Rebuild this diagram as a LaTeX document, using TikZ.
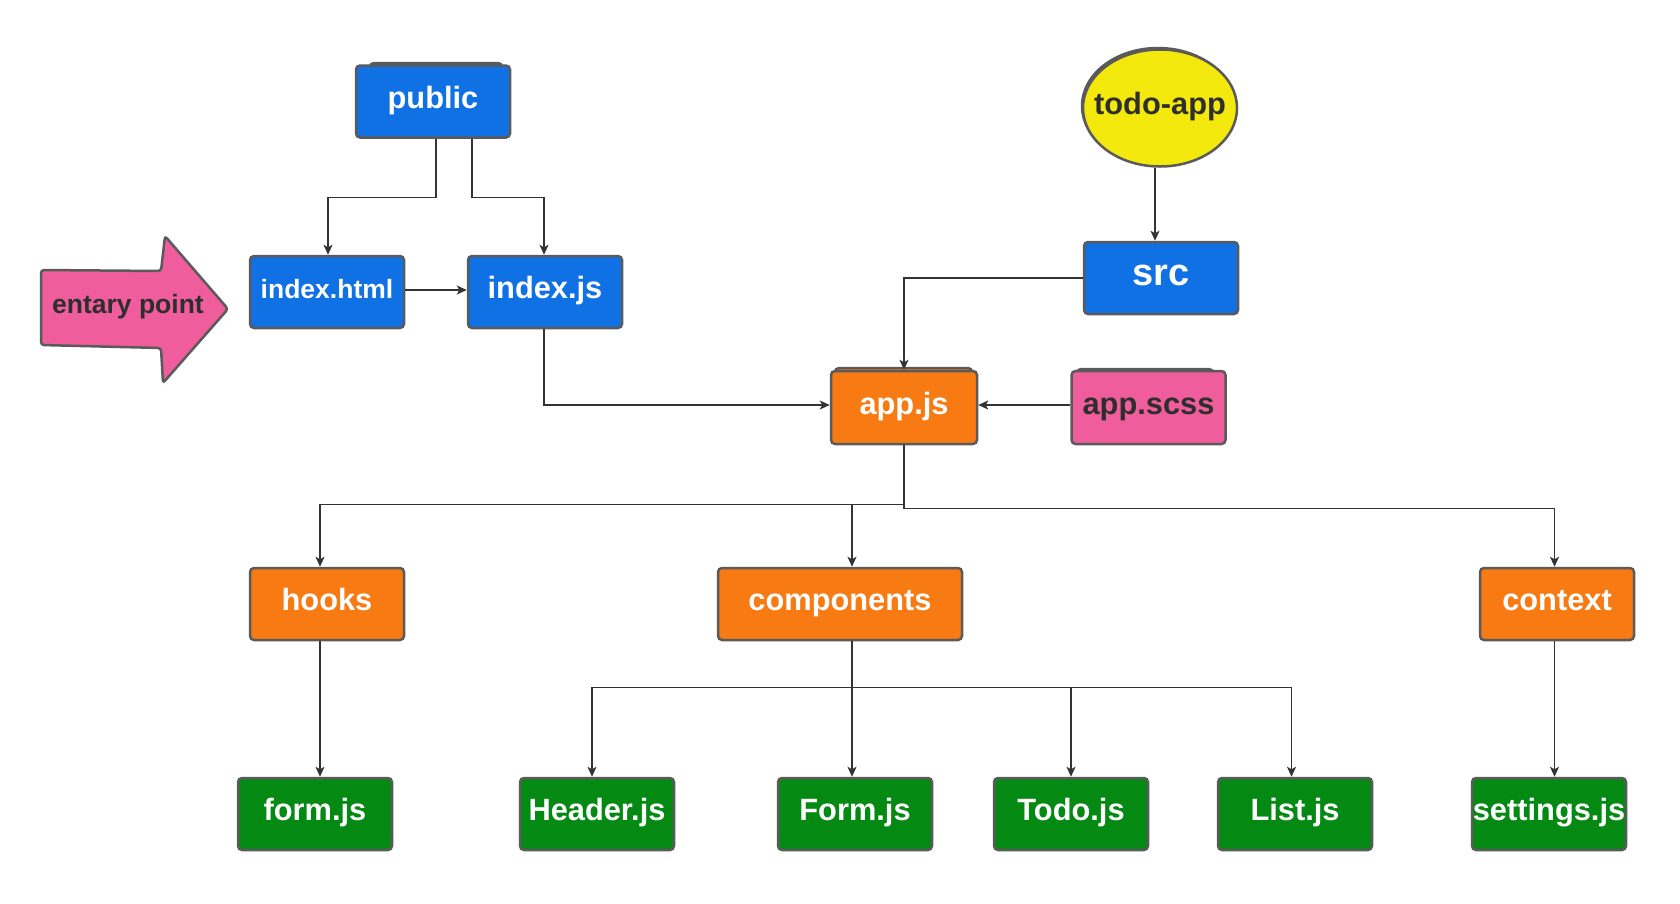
\documentclass[tikz,border=0pt]{standalone}
\usepackage{fontspec}
\setmainfont{Liberation Sans}
\usetikzlibrary{arrows.meta,shapes.geometric}

\definecolor{fblue}{HTML}{1071E5}
\definecolor{forange}{HTML}{F77A12}
\definecolor{fgreen}{HTML}{048A12}
\definecolor{fpink}{HTML}{EF5D9C}
\definecolor{fyellow}{HTML}{F4E90D}
\definecolor{edgegray}{HTML}{5A5A5A}
\definecolor{ink}{HTML}{2E2E2E}
\definecolor{wire}{HTML}{333333}

\begin{document}
\begin{tikzpicture}[x=1pt,y=-1pt,
  box/.style={draw=edgegray, line width=2.5pt, rounded corners=4pt,
    minimum width=154pt, minimum height=72pt, inner sep=0pt,
    font=\fontsize{30.8}{36}\selectfont\bfseries, text=white,
    text height=22pt, text depth=9pt},
  smalltext/.style={font=\fontsize{26.5}{30}\selectfont\bfseries,
    text height=19pt, text depth=7pt},
  bigtext/.style={font=\fontsize{38}{44}\selectfont\bfseries,
    text height=24pt, text depth=10pt},
  bluebox/.style={box, fill=fblue},
  orangebox/.style={box, fill=forange},
  greenbox/.style={box, fill=fgreen},
  pinkbox/.style={box, fill=fpink, text=ink},
  backing/.style={draw=edgegray, line width=2.5pt, rounded corners=4pt},
  link/.style={draw=wire, line width=1.4pt,
    -{Stealth[length=10pt,width=9pt,inset=2.5pt]}}
]
\useasboundingbox (0,0) rectangle (1680,903);

% stacked sheets peeking out behind some boxes
\draw[backing, fill=fblue] (370,63) rectangle (502,120);
\draw[backing, fill=forange] (835,368) rectangle (972,420);
\draw[backing, fill=fpink] (1077,369) rectangle (1213,420);
\draw[draw=edgegray, line width=2.5pt, fill=fyellow] (1158,106) ellipse [x radius=76, y radius=58];

% entry arrow
\draw[draw=edgegray, line width=2.5pt, fill=fpink, rounded corners=3pt]
  (41,270) -- (161,271) -- (165,236) -- (228,309) -- (163,383)
  -- (161,348) -- (41,345) -- cycle;
\node[smalltext, text=ink] (entry) at (128,307) {entary point};

% top level
\node[draw=edgegray, line width=2.5pt, fill=fyellow, ellipse, minimum width=154pt,
  minimum height=117pt, inner sep=0pt, font=\fontsize{30.8}{36}\selectfont\bfseries,
  text=ink, text height=22pt, text depth=9pt] (todo) at (1160,108) {\makebox[0pt]{todo-app}};

\node[bluebox] (pub) at (433,101.5) {public};
\node[bluebox, smalltext] (ih) at (327,292) {index.html};
\node[bluebox] (ij) at (545,292) {index.js};
\node[bluebox, bigtext] (src) at (1161,278) {src};

\node[orangebox, minimum width=146pt, minimum height=73pt] (app) at (904,407.5) {app.js};
\node[pinkbox, minimum height=73pt] (scss) at (1148.5,407.5) {app.scss};

\node[orangebox] (hooks) at (327,604) {hooks};
\node[orangebox, minimum width=244pt] (comp) at (840,604) {components};
\node[orangebox] (ctx) at (1557,604) {context};

\node[greenbox] (fjs) at (315,814) {form.js};
\node[greenbox] (hdr) at (597,814) {Header.js};
\node[greenbox] (Fjs) at (855,814) {Form.js};
\node[greenbox] (tdo) at (1071,814) {Todo.js};
\node[greenbox] (lst) at (1295,814) {List.js};
\node[greenbox] (set) at (1549,814) {settings.js};

% connectors
\draw[link] ([xshift=3pt]pub.south) -- ++(0,58.5) -| ([xshift=1pt]ih.north);
\draw[link] ([xshift=39pt]pub.south) -- ++(0,58.5) -| ([xshift=-1pt]ij.north);
\draw[link] ([yshift=2pt]ih.east) -- ([yshift=2pt]ij.west);
\draw[link] ([xshift=-1pt]ij.south) |- ([yshift=2.5pt]app.west);

\draw[link] ([xshift=-5pt]todo.south) -- ([xshift=-6pt]src.north);
\draw[link] (src.west) -| (app.north);
\draw[link] ([yshift=2.5pt]scss.west) -- ([yshift=2.5pt]app.east);

\draw[link] (app.south) -- ++(0,59.5) -| ([xshift=-7pt]hooks.north);
\draw[link] (app.south) -- ++(0,59.5) -| ([xshift=12pt]comp.north);
\draw[link] (app.south) -- ++(0,63.5) -| ([xshift=-2.5pt]ctx.north);

\draw[link] ([xshift=-7pt]hooks.south) -- ([xshift=-7pt]hooks.south |- fjs.north);
\draw[link] ([xshift=12pt]comp.south) -- ++(0,46.5) -| ([xshift=-5pt]hdr.north);
\draw[link] ([xshift=12pt]comp.south) -- ([xshift=12pt]comp.south |- Fjs.north);
\draw[link] ([xshift=12pt]comp.south) -- ++(0,46.5) -| (tdo.north);
\draw[link] ([xshift=12pt]comp.south) -- ++(0,46.5) -| ([xshift=-3.5pt]lst.north);
\draw[link] ([xshift=-2.5pt]ctx.south) -- ([xshift=-2.5pt]ctx.south |- set.north);
\end{tikzpicture}
\end{document}
